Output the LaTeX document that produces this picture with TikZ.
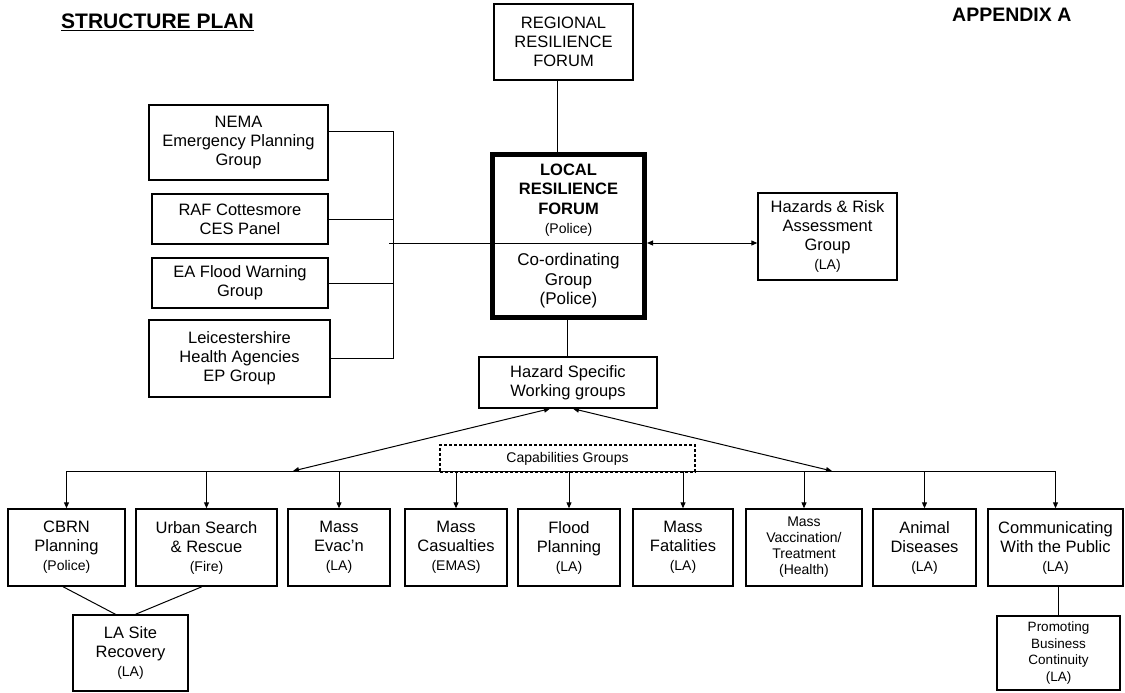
\documentclass[tikz,border=0pt]{standalone}
\usepackage{fontspec}
\setmainfont{Liberation Sans}
\usetikzlibrary{arrows.meta, calc, positioning}

\newcommand{\tagtext}[1]{{\fontsize{14}{16}\selectfont #1}}

\begin{document}
\begin{tikzpicture}[
    x=1pt, y=-1pt, % Work in pixel-like units, y pointing down
    >={Triangle[length=6pt, width=5pt]}, % Set default arrow tip style
    box/.style={draw, line width=1.4pt, inner sep=0pt, align=center, font=\fontsize{16.5}{19}\selectfont}, % Style for plain boxes
    lrfbox/.style={draw, line width=5pt, inner sep=0pt}, % Style for the central forum box
    capbox/.style={draw, dash pattern=on 3pt off 2pt, line width=1.1pt, inner sep=0pt, font=\fontsize{14}{16}\selectfont}, % Style for the dashed label box
    link/.style={line width=1pt}, % Style for connectors
    drop/.style={link, ->}, % Style for arrows from the bus
    heading/.style={font=\fontsize{21}{24}\selectfont\bfseries, anchor=base west, inner sep=0pt} % Style for page headings
]
    \useasboundingbox (0,0) rectangle (1125,693);

    % --- Headings ---
    \node[heading] (title) at (61,29) {\underline{STRUCTURE PLAN}};
    \node[heading, font=\fontsize{19.5}{22}\selectfont\bfseries] (appx) at (952,22) {APPENDIX A};

    % --- Top of the structure ---
    \node[box, minimum width=139pt, minimum height=76pt] (rrf) at (563.5,42) {REGIONAL\\RESILIENCE\\FORUM};
    \node[lrfbox, minimum width=152pt, minimum height=163pt] (lrf) at (568.5,236) {};
    \node[align=center, inner sep=0pt, font=\fontsize{16.5}{19.5}\selectfont] (lrfup) at (568.5,200) {\textbf{LOCAL}\\\textbf{RESILIENCE}\\\textbf{FORUM}\\\tagtext{(Police)}};
    \node[align=center, inner sep=0pt, font=\fontsize{17}{19.5}\selectfont] (lrfdown) at (568.5,281) {Co-ordinating\\Group\\(Police)};
    \node[box, minimum width=139pt, minimum height=87pt] (hra) at (827.5,236.5) {Hazards \& Risk\\Assessment\\Group\\\tagtext{(LA)}};

    % --- Partner groups on the left ---
    \node[box, minimum width=179pt, minimum height=75pt] (nema) at (238.5,142.5) {NEMA\\Emergency Planning\\Group};
    \node[box, minimum width=176pt, minimum height=50pt] (raf) at (240,219) {RAF Cottesmore\\CES Panel};
    \node[box, minimum width=176pt, minimum height=50pt] (eaf) at (240,283) {EA Flood Warning\\Group};
    \node[box, minimum width=181pt, minimum height=77pt] (lhe) at (239.5,358.5) {Leicestershire\\Health Agencies\\EP Group};

    % --- Working groups ---
    \node[box, minimum width=178pt, minimum height=51pt] (hsw) at (568,382.5) {Hazard Specific\\Working groups};

    % --- Capability groups ---
    \node[box, minimum width=117pt, minimum height=77pt] (cbrn) at (66.5,547.5) {CBRN\\Planning\\\tagtext{(Police)}};
    \node[box, minimum width=141pt, minimum height=77pt] (usr) at (206.5,547.5) {Urban Search\\\& Rescue\\\tagtext{(Fire)}};
    \node[box, minimum width=102pt, minimum height=77pt] (mev) at (339,547.5) {Mass\\Evac'n\\\tagtext{(LA)}};
    \node[box, minimum width=102pt, minimum height=77pt] (mca) at (456,547.5) {Mass\\Casualties\\\tagtext{(EMAS)}};
    \node[box, minimum width=102pt, minimum height=77pt] (flp) at (569,547.5) {Flood\\Planning\\\tagtext{(LA)}};
    \node[box, minimum width=100pt, minimum height=77pt] (mfa) at (683,547.5) {Mass\\Fatalities\\\tagtext{(LA)}};
    \node[box, minimum width=116pt, minimum height=77pt, font=\fontsize{14}{16}\selectfont] (mva) at (804,547.5) {Mass\\Vaccination/\\Treatment\\(Health)};
    \node[box, minimum width=103pt, minimum height=77pt] (adis) at (924.5,547.5) {Animal\\Diseases\\\tagtext{(LA)}};
    \node[box, minimum width=135pt, minimum height=77pt] (cwp) at (1055.5,547.5) {Communicating\\With the Public\\\tagtext{(LA)}};

    % --- Follow-on groups ---
    \node[box, minimum width=115pt, minimum height=76pt] (lasr) at (130.5,653) {LA Site\\Recovery\\\tagtext{(LA)}};
    \node[box, minimum width=123pt, minimum height=74pt, font=\fontsize{13.5}{16.5}\selectfont] (pbc) at (1058.5,653) {Promoting\\Business\\Continuity\\(LA)};

    % --- Connectors at the top ---
    \draw[link] (rrf.south -| 557,0) -- (lrf.north -| 557,0);
    \coordinate (spine) at (393,243); % Junction of the left bracket
    \coordinate (nemaE) at ($(nema.north east)!0.35!(nema.south east)$);
    \draw[link] (nemaE) -- (nemaE -| spine);
    \draw[link] (raf.east) -- (raf.east -| spine);
    \draw[link] (eaf.east) -- (eaf.east -| spine);
    \draw[link] (lhe.east) -- (lhe.east -| spine);
    \draw[link] (nemaE -| spine) -- (lhe.east -| spine);
    \draw[link] ([xshift=-4pt]spine) -- (spine -| lrf.east); % Runs on as the divider
    \draw[link, <->] (spine -| lrf.east) -- (spine -| hra.west);
    \draw[link] (lrf.south -| 567,0) -- (hsw.north -| 567,0);

    % --- Bus to the capability groups ---
    \coordinate (bus) at (0,471);
    \coordinate (busL) at (293,471);
    \coordinate (busR) at (832,471);
    \draw[link] (cbrn.north |- bus) -- (cwp.north |- bus);
    \foreach \b in {cbrn,usr,mev,mca,flp,mfa,mva,adis,cwp}
        \draw[drop] (\b.north |- bus) -- (\b.north);
    \draw[link, <->] ([xshift=-18pt]hsw.south) -- (busL);
    \draw[link, <->] ([xshift=5pt]hsw.south) -- (busR);
    \node[capbox, minimum width=255pt, minimum height=27pt] (cap) at (567.5,458.5) {Capabilities Groups};

    % --- Lower links ---
    \draw[link] ([xshift=-3.5pt]cbrn.south) -- ([xshift=-15pt]lasr.north);
    \draw[link] ([xshift=-4.5pt]usr.south) -- ([xshift=5pt]lasr.north);
    \draw[link] (pbc.north) -- (pbc.north |- cwp.south);

\end{tikzpicture}
\end{document}
